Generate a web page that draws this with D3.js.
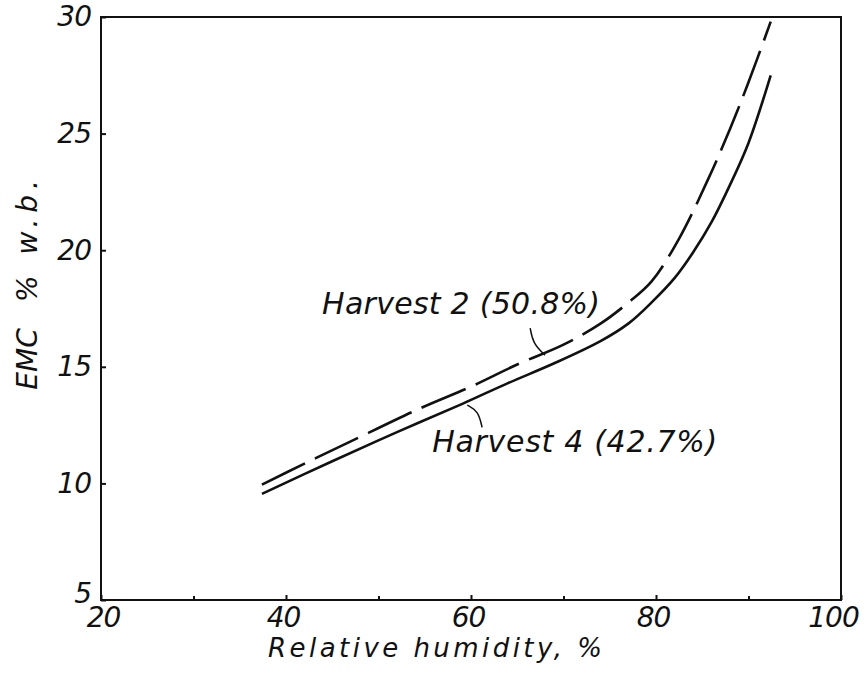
<!DOCTYPE html>
<html>
<head>
<meta charset="utf-8">
<script src="https://cdn.jsdelivr.net/npm/d3@7"></script>
<style>
  body { margin: 0; background: #fff; }
  text { font-family: "DejaVu Sans", sans-serif; font-style: italic; fill: #111; }
</style>
</head>
<body>
<div id="chart"></div>
<script>
// axis ticks
const rhTicks = [20, 40, 60, 80, 100];
const rhMinor = [30, 50, 70, 90];
const emcTicks = [5, 10, 15, 20, 25, 30];

// curves (RH %, EMC % w.b.)
const harvest2RH  = [37.4, 42, 47, 54.4, 60, 65, 70, 74, 77, 79.5, 82.5, 85.7, 88, 90, 92.4];
const harvest2EMC = [9.95, 10.85, 11.8, 13.2, 14.15, 15.1, 15.95, 16.85, 17.75, 18.65, 20.5, 23.1, 25.2, 27.2, 29.8];
const harvest4RH  = [37.4, 45, 52, 59, 64, 69, 74, 77, 79.5, 82, 84, 86, 88, 90, 92.4];
const harvest4EMC = [9.55, 10.95, 12.2, 13.4, 14.3, 15.15, 16.1, 16.85, 17.75, 18.8, 19.9, 21.2, 22.8, 24.6, 27.5];

const seriesNames = ["Harvest 2 (50.8%)", "Harvest 4 (42.7%)"];
const xLabel = "Relative humidity, %";

const W = 868, H = 675;

const svg = d3.select("#chart")
  .append("svg")
  .attr("width", W)
  .attr("height", H);

const x = d3.scaleLinear().domain([20, 100]).range([101, 841]);
const y = d3.scaleLinear().domain([5, 30]).range([600, 17]);

// frame
svg.append("rect")
  .attr("x", x(20))
  .attr("y", y(30))
  .attr("width", x(100) - x(20))
  .attr("height", y(5) - y(30))
  .attr("fill", "none")
  .attr("stroke", "#111")
  .attr("stroke-width", 2);

// bottom axis
const gx = svg.append("g")
  .attr("transform", `translate(0,${y(5)})`)
  .call(d3.axisBottom(x).tickValues(rhTicks).tickSizeInner(-5).tickSizeOuter(0).tickPadding(7));
gx.select(".domain").remove();
gx.selectAll("text")
  .attr("font-size", 28)
  .attr("font-family", null)
  .attr("letter-spacing", -1)
  .attr("dx", d => d === 20 ? 2 : (d === 100 ? -8 : -3));

const gxm = svg.append("g")
  .attr("transform", `translate(0,${y(5)})`)
  .call(d3.axisBottom(x).tickValues(rhMinor).tickSizeInner(-4).tickSizeOuter(0).tickFormat(""));
gxm.select(".domain").remove();

// left axis
const gy = svg.append("g")
  .attr("transform", `translate(${x(20)},0)`)
  .call(d3.axisLeft(y).tickValues(emcTicks).tickSizeInner(-5).tickSizeOuter(0).tickPadding(10));
gy.select(".domain").remove();
gy.selectAll("text")
  .attr("font-size", 28)
  .attr("font-family", null)
  .attr("letter-spacing", -1)
  .attr("dy", d => d === 5 ? "0.1em" : "0.32em");

svg.selectAll(".tick line").attr("stroke", "#111").attr("stroke-width", 2);

// curves
const line = d3.line()
  .x(d => x(d[0]))
  .y(d => y(d[1]))
  .curve(d3.curveCatmullRom.alpha(0.5));

const h2 = harvest2RH.map((v, i) => [v, harvest2EMC[i]]);
const h4 = harvest4RH.map((v, i) => [v, harvest4EMC[i]]);

svg.append("path")
  .attr("d", line(h2))
  .attr("fill", "none")
  .attr("stroke", "#111")
  .attr("stroke-width", 2.6)
  .attr("stroke-dasharray", "48,11");

svg.append("path")
  .attr("d", line(h4))
  .attr("fill", "none")
  .attr("stroke", "#111")
  .attr("stroke-width", 2.6);

// leader lines
const leader = d3.line().x(d => x(d[0])).y(d => y(d[1])).curve(d3.curveBasis);
svg.append("path")
  .attr("d", leader([[66.4, 16.66], [66.7, 16.0], [68.0, 15.5]]))
  .attr("fill", "none").attr("stroke", "#111").attr("stroke-width", 1.5);
svg.append("path")
  .attr("d", leader([[59.6, 13.36], [60.8, 13.1], [61.2, 12.4]]))
  .attr("fill", "none").attr("stroke", "#111").attr("stroke-width", 1.5);

// series labels
svg.append("text")
  .attr("x", x(43.9)).attr("y", y(17.26))
  .attr("font-size", 30)
  .attr("textLength", 278).attr("lengthAdjust", "spacing")
  .text(seriesNames[0]);

svg.append("text")
  .attr("x", x(55.8)).attr("y", y(11.35))
  .attr("font-size", 30)
  .attr("textLength", 285).attr("lengthAdjust", "spacing")
  .text(seriesNames[1]);

// axis titles
svg.append("text")
  .attr("x", 268).attr("y", 657)
  .attr("font-size", 26)
  .attr("textLength", 334).attr("lengthAdjust", "spacing")
  .text(xLabel);

svg.append("text")
  .attr("transform", "translate(37,359) rotate(-90)")
  .attr("text-anchor", "middle")
  .attr("font-size", 28)
  .text("EMC");

svg.append("text")
  .attr("transform", "translate(37,302) rotate(-90)")
  .attr("font-size", 28)
  .attr("textLength", 122).attr("lengthAdjust", "spacing")
  .text("% w.b.");
</script>
</body>
</html>
